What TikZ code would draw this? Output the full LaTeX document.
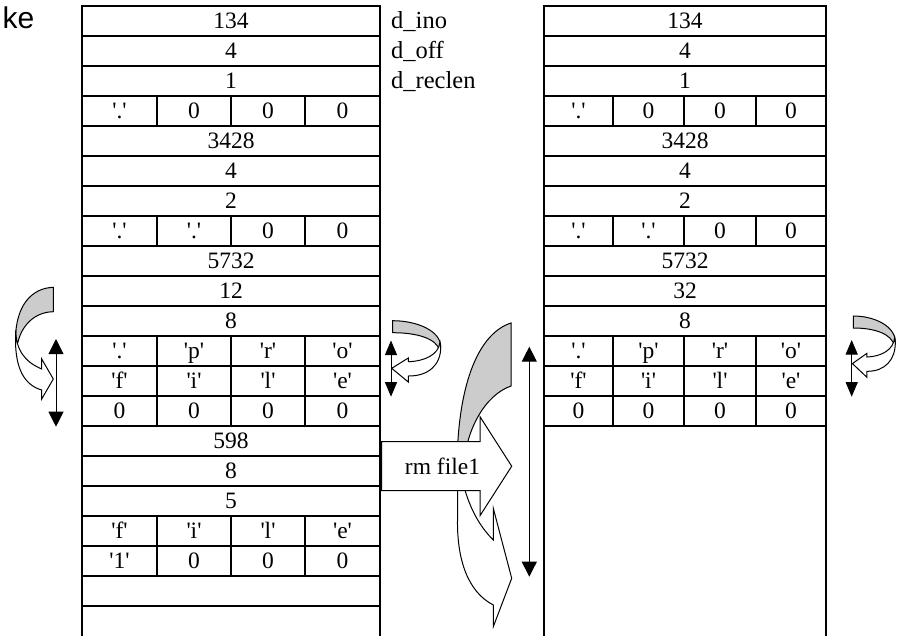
\documentclass[tikz,border=0pt]{standalone}
\usepackage{fontspec}
\setmainfont{Liberation Serif}
\newfontfamily\headfont{Liberation Sans}
\usetikzlibrary{arrows.meta}
\definecolor{backshade}{gray}{0.8}
\newcommand\chr[1]{\textquotesingle#1\textquotesingle}

\tikzset{
  gridline/.style={line width=1.8pt, line cap=rect},
  entry/.style={anchor=base, inner sep=0pt, font=\fontsize{23.5}{28}\selectfont},
  fieldname/.style={anchor=base west, inner sep=0pt, font=\fontsize{24.5}{29}\selectfont},
  blockline/.style={line width=1pt, line join=miter},
  backband/.style={blockline, fill=backshade},
  frontband/.style={blockline, fill=white},
  span/.style={line width=1pt, {Triangle[length=15pt,width=15pt]}-{Triangle[length=15pt,width=15pt]}},
  shortspan/.style={line width=1pt, {Triangle[length=14.5pt,width=12pt]}-{Triangle[length=14.5pt,width=12pt]}},
}

% one value spanning the whole row
\newcommand\fullrow[3]{\node[entry] (#1-#2) at (\tcM,{28.5+30*#2}) {#3};}
% four byte-sized cells in a row
\newcommand\quadrow[6]{%
  \node[entry] (#1-#2-a) at (\tcA,{28.5+30*#2}) {#3};
  \node[entry] (#1-#2-b) at (\tcB,{28.5+30*#2}) {#4};
  \node[entry] (#1-#2-c) at (\tcC,{28.5+30*#2}) {#5};
  \node[entry] (#1-#2-d) at (\tcD,{28.5+30*#2}) {#6};
  \draw[gridline] (\tdA,{6+30*#2}) -- (\tdA,{36+30*#2});
  \draw[gridline] (\tdB,{6+30*#2}) -- (\tdB,{36+30*#2});
  \draw[gridline] (\tdC,{6+30*#2}) -- (\tdC,{36+30*#2});
}
% arrow curving back to the left (pointing at the left)
\newcommand\backarrow{%
  \draw[backband] (0,0) .. controls (24,0) and (48,10) .. (48,26) -- (47,30)
        .. controls (44,18) and (25,12) .. (0,12) -- cycle;
  \draw[frontband] (47.3,21.4) .. controls (46,34) and (32,40.5) .. (15.6,41)
        -- (15.6,37.3) -- (-1,47.6) -- (15.6,61.3) -- (15.6,55.3)
        .. controls (36,55.5) and (48.3,44) .. (48,26) -- cycle;
}

\begin{document}
\begin{tikzpicture}[x=1pt,y=-1pt]
\useasboundingbox (0,0) rectangle (897,635);

\node[anchor=base east, inner sep=0pt, font=\headfont\fontsize{30}{34}\selectfont] (corner) at (34.5,28.6) {ke};

% ---------- directory block before the removal ----------
\def\tcA{119.5}\def\tcB{194}\def\tcC{268}\def\tcD{342.5}\def\tcM{231}
\def\tdA{157}\def\tdB{231}\def\tdC{305}
\foreach \r in {0,...,20} \draw[gridline] (82,{6+30*\r}) -- (380,{6+30*\r});
\draw[gridline] (82,6) -- (82,636);
\draw[gridline] (380,6) -- (380,636);
\fullrow{L}{0}{134}
\fullrow{L}{1}{4}
\fullrow{L}{2}{1}
\quadrow{L}{3}{\chr{.}}{0}{0}{0}
\fullrow{L}{4}{3428}
\fullrow{L}{5}{4}
\fullrow{L}{6}{2}
\quadrow{L}{7}{\chr{.}}{\chr{.}}{0}{0}
\fullrow{L}{8}{5732}
\fullrow{L}{9}{12}
\fullrow{L}{10}{8}
\quadrow{L}{11}{\chr{.}}{\chr{p}}{\chr{r}}{\chr{o}}
\quadrow{L}{12}{\chr{f}}{\chr{i}}{\chr{l}}{\chr{e}}
\quadrow{L}{13}{0}{0}{0}{0}
\fullrow{L}{14}{598}
\fullrow{L}{15}{8}
\fullrow{L}{16}{5}
\quadrow{L}{17}{\chr{f}}{\chr{i}}{\chr{l}}{\chr{e}}
\quadrow{L}{18}{\chr{1}}{0}{0}{0}

\node[fieldname] (fino) at (391,28.5) {d\_ino};
\node[fieldname] (foff) at (391,58.5) {d\_off};
\node[fieldname] (freclen) at (391,88.5) {d\_reclen};

% ---------- directory block after the removal ----------
\def\tcA{578.5}\def\tcB{648.5}\def\tcC{720}\def\tcD{791}\def\tcM{685}
\def\tdA{613}\def\tdB{684}\def\tdC{756}
\foreach \r in {0,...,14} \draw[gridline] (544,{6+30*\r}) -- (826,{6+30*\r});
\draw[gridline] (544,6) -- (544,636);
\draw[gridline] (826,6) -- (826,636);
\fullrow{R}{0}{134}
\fullrow{R}{1}{4}
\fullrow{R}{2}{1}
\quadrow{R}{3}{\chr{.}}{0}{0}{0}
\fullrow{R}{4}{3428}
\fullrow{R}{5}{4}
\fullrow{R}{6}{2}
\quadrow{R}{7}{\chr{.}}{\chr{.}}{0}{0}
\fullrow{R}{8}{5732}
\fullrow{R}{9}{32}
\fullrow{R}{10}{8}
\quadrow{R}{11}{\chr{.}}{\chr{p}}{\chr{r}}{\chr{o}}
\quadrow{R}{12}{\chr{f}}{\chr{i}}{\chr{l}}{\chr{e}}
\quadrow{R}{13}{0}{0}{0}{0}

% ---------- left: record stretched over the next one ----------
\draw[backband] (53.3,287.3) .. controls (32,288) and (15.5,305) .. (15.5,340) -- (18,342)
      .. controls (22,325) and (35,312) .. (53.3,311.7) -- cycle;
\draw[frontband] (15.8,330) .. controls (15.8,350) and (25,362) .. (41.7,369)
      -- (41.7,359) -- (53.3,379) -- (41.7,399) -- (41.7,390)
      .. controls (24,385) and (15.5,368) .. (15.5,340) -- cycle;
\coordinate (lspan-top) at (56,339);
\coordinate (lspan-bot) at (56,426.7);
\draw[span] (lspan-top) -- (lspan-bot);

% ---------- middle: the swallowed record ----------
\draw[backband] (511,323) .. controls (480,333) and (458,380) .. (457,465) -- (464,465)
      .. controls (466,430) and (485,395) .. (511,386) -- cycle;
\draw[frontband] (458,450) .. controls (460,478) and (468,515) .. (493.3,540)
      -- (493.3,508.3) -- (511.7,578.3) -- (493.3,626.7) -- (493.3,605)
      .. controls (468,592) and (457,560) .. (457.5,520)
      .. controls (457.5,490) and (457.5,470) .. (458,450) -- cycle;
\draw[frontband] (381.7,441.7) -- (480,441.7) -- (480,416.7) -- (511.7,466.2)
      -- (480,515.7) -- (480,490.7) -- (381.7,490.7) -- cycle;
\node[entry] (rmlabel) at (442.5,474) {rm file1};
\coordinate (mspan-top) at (529.3,346.7);
\coordinate (mspan-bot) at (529.3,576.7);
\draw[span] (mspan-top) -- (mspan-bot);

\begin{scope}[shift={(392.7,320.7)}]
  \backarrow
\end{scope}
\coordinate (sspan-top) at (391,340.5);
\coordinate (sspan-bot) at (391,396.7);
\draw[shortspan] (sspan-top) -- (sspan-bot);

% ---------- right ----------
\begin{scope}[shift={(853.3,316)}, xscale=0.875]
  \backarrow
\end{scope}
\coordinate (rspan-top) at (851.7,340);
\coordinate (rspan-bot) at (851.7,396.7);
\draw[shortspan] (rspan-top) -- (rspan-bot);

\end{tikzpicture}
\end{document}
